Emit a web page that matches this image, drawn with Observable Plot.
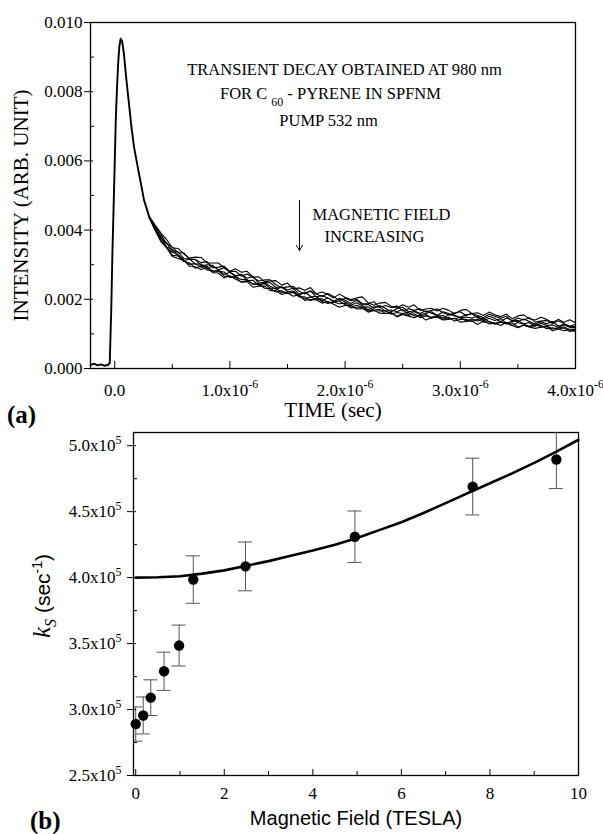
<!DOCTYPE html>
<html><head><meta charset="utf-8">
<script src="https://cdn.jsdelivr.net/npm/d3@7"></script>
<script src="https://cdn.jsdelivr.net/npm/@observablehq/plot@0.6"></script>
<style>
body{margin:0;background:#fff}
#wrap{position:relative;width:603px;height:834px;background:#fff;overflow:hidden}
#top,#bot{position:absolute;left:0}
#top{top:0}
#bot{top:425px}
.lab{position:absolute;font-family:"Liberation Serif",serif;font-weight:bold;font-size:25px;line-height:24px}
</style></head><body>
<div id="wrap"><div id="top"></div><div id="bot"></div>
<div class="lab" style="left:7px;top:403px">(a)</div>
<div class="lab" style="left:30px;top:809px">(b)</div></div>
<script>
// ---------- Panel (a): transient decay (time in microseconds, intensity in 1e-3 arb. units)
const riseTime = [-0.21,-0.18,-0.15,-0.12,-0.09,-0.06,-0.043,-0.03,-0.02,-0.01,0.0,0.01,0.02,0.03,0.04,0.052,0.065,0.08,0.10,0.124,0.145,0.168,0.19,0.211,0.233,0.255,0.28,0.3];
const riseValue = [0.10,0.14,0.09,0.12,0.08,0.10,0.15,1.7,3.3,4.6,5.9,7.25,8.1,8.8,9.3,9.53,9.45,9.1,8.4,7.65,7.0,6.4,6.0,5.63,5.25,4.86,4.6,4.38];
const tailTime = [0.30,0.35,0.40,0.45,0.50,0.55,0.60,0.65,0.70,0.75,
 0.80,0.85,0.90,0.95,1.00,1.05,1.10,1.15,1.20,1.25,
 1.30,1.35,1.40,1.45,1.50,1.55,1.60,1.65,1.70,1.75,
 1.80,1.85,1.90,1.95,2.00,2.05,2.10,2.15,2.20,2.25,
 2.30,2.35,2.40,2.45,2.50,2.55,2.60,2.65,2.70,2.75,
 2.80,2.85,2.90,2.95,3.00,3.05,3.10,3.15,3.20,3.25,
 3.30,3.35,3.40,3.45,3.50,3.55,3.60,3.65,3.70,3.75,
 3.80,3.85,3.90,3.95,4.00];
const tailBase = [4.38,4.08,3.80,3.58,3.40,3.29,3.20,3.13,3.06,3.01,
 2.97,2.91,2.86,2.81,2.76,2.71,2.66,2.60,2.55,2.50,
 2.45,2.40,2.36,2.31,2.27,2.23,2.19,2.15,2.12,2.08,
 2.05,2.02,1.99,1.96,1.93,1.90,1.87,1.83,1.80,1.77,
 1.74,1.71,1.69,1.67,1.66,1.64,1.63,1.61,1.60,1.58,
 1.57,1.55,1.54,1.52,1.51,1.49,1.48,1.46,1.45,1.43,
 1.42,1.40,1.39,1.37,1.36,1.34,1.32,1.31,1.29,1.28,
 1.26,1.25,1.23,1.21,1.19];
// per-trace deviations from the mean band, in 1e-5 units (traces at increasing magnetic field)
const trace1 = [2,7,12,15,9,18,11,6,16,20, 8,14,19,10,5,17,12,21,9,15, 6,13,18,10,20,7,14,11,22,8, 16,12,5,19,13,9,17,24,10,6, 15,20,11,8,18,13,21,7,12,16, 9,19,14,6,17,22,11,15,8,20, 13,10,18,7,16,21,12,9,19,14, 6,17,11,20,13];
const trace2 = [1,4,8,3,11,6,14,2,9,5, 12,0,7,15,4,10,1,13,8,3, 11,16,6,2,9,14,5,0,12,7, 3,15,9,1,10,6,13,4,8,16, 2,11,7,14,0,9,5,12,3,10, 15,6,1,8,13,4,11,7,2,14, 9,5,12,0,10,6,15,3,8,11, 4,13,7,1,9];
const trace3 = [0,2,-3,5,0,8,-2,4,9,-4, 3,7,-1,10,2,-5,6,1,11,-3, 4,8,-2,5,0,9,-4,3,12,-1, 6,2,-6,7,4,-2,10,1,5,-3, 8,3,-5,6,11,0,4,-2,7,2, -4,9,5,0,-3,6,10,1,-2,8, 3,-5,7,2,-1,9,4,-3,6,1, 10,-2,5,0,3];
const trace4 = [-1,-3,2,-6,4,-2,-8,3,-4,1, -7,5,-1,-9,2,-3,6,-6,0,-10, 3,-2,-7,4,-5,1,-8,6,-3,0, -9,2,-4,5,-1,-7,3,-2,-10,1, 4,-6,0,-3,5,-8,2,-5,-1,6, -4,-9,1,3,-6,0,-2,5,-7,2, -3,4,-8,-1,3,-5,1,-9,2,-4, 0,-6,3,-2,-1];
const trace5 = [-1,-5,-2,-9,-4,0,-7,-12,-3,-8, -1,-10,-5,-2,-13,-6,-9,-3,-11,-7, 0,-8,-4,-12,-6,-2,-10,-14,-5,-8, -3,-11,-7,-1,-9,-13,-4,-6,-2,-10, -8,-3,-12,-5,-7,-1,-11,-9,-4,-13, -6,-2,-10,-8,-3,-12,-5,-9,-1,-7, -11,-4,-8,-13,-3,-6,-10,-2,-9,-5, -12,-7,-3,-8,-6];
const trace6 = [-2,-6,-10,-7,-13,-4,-11,-8,-16,-5, -12,-9,-3,-14,-10,-7,-17,-6,-11,-4, -13,-9,-15,-6,-10,-3,-12,-8,-16,-5, -11,-14,-7,-9,-4,-15,-10,-6,-13,-8, -3,-12,-9,-16,-7,-11,-5,-14,-8,-10, -4,-13,-6,-15,-9,-7,-12,-3,-11,-8, -14,-6,-10,-5,-16,-9,-12,-7,-4,-13, -8,-11,-6,-14,-9];
const trace7 = [-3,-8,-13,-9,-16,-11,-7,-18,-12,-15, -6,-14,-10,-19,-8,-13,-16,-9,-20,-12, -7,-15,-11,-17,-9,-14,-6,-18,-12,-10, -16,-8,-13,-19,-11,-7,-15,-10,-17,-9, -14,-12,-6,-18,-10,-13,-16,-8,-20,-11, -9,-15,-12,-7,-17,-13,-10,-19,-8,-14, -11,-16,-6,-13,-18,-9,-12,-15,-10,-7, -17,-11,-14,-9,-12];
const traces = [trace1,trace2,trace3,trace4,trace5,trace6,trace7];
const timeTicks = [0,1,2,3,4];
const timeMinor = [0.5,1.5,2.5,3.5];
const intensityTicks = [0,2,4,6,8,10];
const intensityMinor = [1,3,5,7,9];
const notes = [
  {t:1.995, v:8.64, s:"TRANSIENT DECAY OBTAINED AT 980 nm"},
  {t:1.873, v:7.95, s:"FOR C _{60} - PYRENE IN SPFNM"},
  {t:1.856, v:7.17, s:"PUMP 532 nm"},
  {t:2.316, v:4.45, s:"MAGNETIC FIELD"},
  {t:2.255, v:3.82, s:"INCREASING"}
];
const fieldArrow = [{t:1.604, from:4.86, to:3.41}];

// ---------- Panel (b): k_S vs magnetic field (k_S in 1e5 s^-1)
const field = [0.0,0.17,0.34,0.64,0.98,1.30,2.48,4.95,7.61,9.50];
const ks = [2.89,2.955,3.09,3.29,3.485,3.985,4.085,4.31,4.69,4.895];
const ksErr = [0.13,0.14,0.135,0.145,0.155,0.18,0.185,0.195,0.215,0.22];
const fitField = [0,0.5,1,1.5,2,2.5,3,3.5,4,4.5,5,5.5,6,6.5,7,7.5,8,8.5,9,9.5,10];
const fitK = [4.00,4.003,4.01,4.03,4.055,4.09,4.125,4.165,4.205,4.25,4.30,4.36,4.42,4.49,4.565,4.64,4.715,4.79,4.87,4.955,5.045];
const fieldTicks = [0,2,4,6,8,10];
const fieldMinor = [1,3,5,7,9];
const ksTicks = [2.5,3.0,3.5,4.0,4.5,5.0];
const ksMinor = [2.75,3.25,3.75,4.25,4.75];

// ---------- derived tables
const rise = riseTime.map((t,i)=>({t, v:riseValue[i]}));
const tails = traces.flatMap((off,k)=>tailTime.map((t,i)=>({k, t, v: tailBase[i] + off[i]/100})));
const pts = field.map((f,i)=>({f, k:ks[i], e:ksErr[i]}));
const fit = fitField.map((f,i)=>({f, k:fitK[i]}));

const SVGNS="http://www.w3.org/2000/svg";
function rich(svg){
  svg.querySelectorAll("text").forEach(t=>{
    const s=t.textContent;
    if(!/[\^_]\{/.test(s)) return;
    while(t.firstChild) t.removeChild(t.firstChild);
    const re=/([\^_])\{([^}]*)\}/g; let last=0,m,back=null;
    const add=(txt,dy,size)=>{const e=document.createElementNS(SVGNS,"tspan");e.textContent=txt;if(dy)e.setAttribute("dy",dy);if(size)e.setAttribute("font-size",size);t.appendChild(e);};
    while((m=re.exec(s))){
      if(m.index>last){add(s.slice(last,m.index),back);back=null;}
      if(m[1]==="^"){add(m[2],"-0.6em","70%");back="0.42em";}
      else {add(m[2],"0.6em","72%");back="-0.43em";}
      last=re.lastIndex;
    }
    if(last<s.length) add(s.slice(last),back);
  });
  svg.querySelectorAll("text").forEach(t=>{
    if(t.textContent!=="k_S (sec-1)") return;
    while(t.firstChild) t.removeChild(t.firstChild);
    const add=(txt,o)=>{const e=document.createElementNS(SVGNS,"tspan");e.textContent=txt;for(const k in o)e.setAttribute(k,o[k]);t.appendChild(e);};
    add("k",{"font-family":"Liberation Serif","font-style":"italic","font-size":"25"});
    add("S",{"font-family":"Liberation Serif","font-style":"italic","font-size":"16","dy":"6"});
    add(" (sec",{"font-family":"Liberation Sans","font-size":"21","dy":"-6"});
    add("-1",{"font-family":"Liberation Sans","font-size":"14","dy":"-8"});
    add(")",{"font-family":"Liberation Sans","font-size":"21","dy":"8"});
  });
}

// ---------- Plot (a)
const topFW = 485, topFH = 346;
const topPlot = Plot.plot({
  width: 603, height: 425,
  marginTop: 22, marginRight: 28, marginBottom: 57, marginLeft: 90,
  style: {fontFamily: "Liberation Serif", fontSize: "17px", color: "black", background: "white", overflow: "visible"},
  x: {domain: [-0.21, 4.0]},
  y: {domain: [0, 10]},
  marks: [
    Plot.line(tails, {x: "t", y: "v", z: "k", stroke: "black", strokeWidth: 1.1}),
    Plot.line(rise, {x: "t", y: "v", stroke: "black", strokeWidth: 1.9}),
    Plot.frame({stroke: "black", strokeWidth: 1.3}),
    Plot.tickX(timeTicks, {x: d=>d, insetTop: topFH - 7, stroke: "black"}),
    Plot.tickX(timeMinor, {x: d=>d, insetTop: topFH - 4, stroke: "black"}),
    Plot.tickY(intensityTicks, {y: d=>d, insetLeft: -6, insetRight: topFW - 3, stroke: "black"}),
    Plot.tickY(intensityMinor, {y: d=>d, insetRight: topFW - 4, stroke: "black"}),
    Plot.axisX(timeTicks, {tickSize: 0, tickPadding: 15, label: null, tickFormat: d => d === 0 ? "0.0" : d.toFixed(1) + "x10^{-6}"}),
    Plot.axisY(intensityTicks, {tickSize: 0, tickPadding: 8, label: null, tickFormat: d => (d/1000).toFixed(3)}),
    Plot.text(notes, {x: "t", y: "v", text: "s", fontSize: 16.5, textAnchor: "middle"}),
    Plot.arrow(fieldArrow, {x1: "t", x2: "t", y1: "from", y2: "to", stroke: "black", strokeWidth: 1, headLength: 9}),
    Plot.text(["TIME (sec)"], {frameAnchor: "bottom", dy: 42, fontSize: 21, textAnchor: "middle", lineAnchor: "middle"}),
    Plot.text(["INTENSITY (ARB. UNIT)"], {frameAnchor: "left", dx: -69, dy: 10, rotate: -90, fontSize: 21, textAnchor: "middle", lineAnchor: "middle"})
  ]
});
rich(topPlot);
document.getElementById("top").appendChild(topPlot);

// ---------- Plot (b)
const botFW = 445, botFH = 343;
const botPlot = Plot.plot({
  width: 603, height: 409,
  marginTop: 7, marginRight: 25, marginBottom: 59, marginLeft: 133,
  style: {fontFamily: "Liberation Serif", fontSize: "17px", color: "black", background: "white", overflow: "visible"},
  x: {domain: [-0.05, 10]},
  y: {domain: [2.5, 5.1]},
  marks: [
    Plot.ruleX(pts, {x: "f", y1: d => d.k - d.e, y2: d => d.k + d.e, stroke: "#555", strokeWidth: 1, clip: true}),
    Plot.ruleY(pts, {y: d => d.k + d.e, x1: "f", x2: "f", insetLeft: -7, insetRight: -7, stroke: "#555", strokeWidth: 1, clip: true}),
    Plot.ruleY(pts, {y: d => d.k - d.e, x1: "f", x2: "f", insetLeft: -7, insetRight: -7, stroke: "#555", strokeWidth: 1, clip: true}),
    Plot.line(fit, {x: "f", y: "k", stroke: "black", strokeWidth: 2.6}),
    Plot.dot(pts, {x: "f", y: "k", r: 5.2, fill: "black"}),
    Plot.frame({stroke: "black", strokeWidth: 1.3}),
    Plot.tickX(fieldTicks, {x: d=>d, insetTop: botFH - 6, stroke: "black"}),
    Plot.tickX(fieldMinor, {x: d=>d, insetTop: botFH - 4, stroke: "black"}),
    Plot.tickY(ksTicks, {y: d=>d, insetLeft: -6, insetRight: botFW - 3, stroke: "black"}),
    Plot.tickY(ksMinor, {y: d=>d, insetRight: botFW - 4, stroke: "black"}),
    Plot.axisX(fieldTicks, {tickSize: 0, tickPadding: 11, label: null, tickFormat: d => String(d)}),
    Plot.axisY(ksTicks, {tickSize: 0, tickPadding: 12, label: null, tickFormat: d => d.toFixed(1) + "x10^{5}"}),
    Plot.text(["Magnetic Field (TESLA)"], {frameAnchor: "bottom", dy: 43, fontSize: 20, fontFamily: "Liberation Sans", textAnchor: "middle", lineAnchor: "middle"}),
    Plot.text(["k_S (sec-1)"], {frameAnchor: "left", dx: -90, dy: -8, rotate: -90, fontSize: 21, textAnchor: "middle", lineAnchor: "middle"})
  ]
});
rich(botPlot);
document.getElementById("bot").appendChild(botPlot);
</script>
</body></html>
